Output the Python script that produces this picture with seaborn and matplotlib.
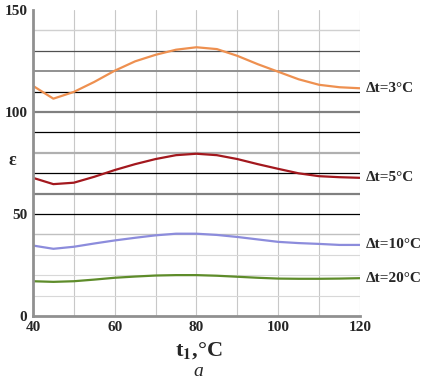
import matplotlib
matplotlib.use("Agg")
import matplotlib.pyplot as plt
import seaborn as sns
import pandas as pd

sns.set_theme(style="white")
plt.rcParams['font.family'] = ['Liberation Serif', 'DejaVu Serif']
plt.rcParams['mathtext.fontset'] = 'stix'

t1 = [40, 45, 50, 55, 60, 65, 70, 75, 80, 85, 90, 95, 100, 105, 110, 115, 120]
eps_3 = [112.8, 106.5, 109.8, 114.7, 120.2, 124.8, 128.0, 130.5, 131.7, 130.8,
         127.5, 123.4, 119.7, 116.0, 113.3, 112.1, 111.6]
eps_5 = [67.7, 64.6, 65.3, 68.2, 71.5, 74.4, 76.9, 78.8, 79.5, 78.8,
         76.9, 74.4, 72.1, 69.9, 68.5, 68.0, 67.7]
eps_10 = [34.5, 32.9, 33.9, 35.5, 37.0, 38.3, 39.5, 40.3, 40.3, 39.7,
          38.7, 37.5, 36.3, 35.7, 35.3, 34.8, 34.8]
eps_20 = [17.0, 16.7, 17.0, 17.8, 18.7, 19.3, 19.8, 20.0, 20.0, 19.7,
          19.2, 18.7, 18.3, 18.2, 18.2, 18.3, 18.5]
labels = ["Δt=3°C", "Δt=5°C", "Δt=10°C", "Δt=20°C"]
colors = ["#EE9050", "#A3181E", "#8C8CDC", "#5E8C2A"]

series = [eps_3, eps_5, eps_10, eps_20]
df = pd.concat([pd.DataFrame({"t1": t1, "eps": s, "dt": lab}) for s, lab in zip(series, labels)])

fig = plt.figure(figsize=(4.22, 3.82), dpi=100)
ax = fig.add_axes([0.078, 0.173, 0.775, 0.801])

# grid
for x in range(40, 121, 10):
    ax.axvline(x, color="#C8C8C8", lw=0.8, zorder=0)
hstyles = {10: ("#D8D8D8", 0.8), 20: ("#D8D8D8", 0.8), 30: ("#D8D8D8", 0.8),
           40: ("#C0C0C0", 1.0), 50: ("#000000", 0.9), 60: ("#808080", 1.6),
           70: ("#000000", 0.9), 80: ("#B0B0B0", 1.6), 90: ("#000000", 0.9),
           100: ("#808080", 1.6), 110: ("#000000", 0.9), 120: ("#909090", 1.4),
           130: ("#505050", 0.9), 140: ("#D0D0D0", 1.0)}
for y, (c, w) in hstyles.items():
    ax.axhline(y, color=c, lw=w, zorder=0)

sns.lineplot(data=df, x="t1", y="eps", hue="dt", palette=colors, ax=ax,
             legend=False, lw=1.6)
for line in ax.get_lines():
    line.set_solid_joinstyle("round")

ax.set_xlim(40, 120)
ax.set_ylim(0, 150)
ax.set_xticks([40, 60, 80, 100, 120])
ax.set_yticks([0, 50, 100, 150])
ax.tick_params(axis="x", labelsize=11, length=0, pad=4)
ax.tick_params(axis="y", labelsize=11, length=0, pad=4)
for lab in ax.get_xticklabels() + ax.get_yticklabels():
    lab.set_fontweight("bold")
for s in ["top", "right"]:
    ax.spines[s].set_visible(False)
for s in ["left", "bottom"]:
    ax.spines[s].set_color("#909090")
    ax.spines[s].set_linewidth(2)

for s, lab in zip(series, labels):
    ax.text(121.5, s[-1], lab, fontsize=11, fontweight="bold", va="center",
            ha="left", clip_on=False)

ax.set_xlabel("")
ax.set_ylabel("")
fig.text(0.03, 0.58, "ε", fontsize=13, fontweight="bold", ha="center", va="center")
fig.text(0.47, 0.083, r"t$_{\mathbf{1}}$,°C", fontsize=16, fontweight="bold", ha="center", va="center")
fig.text(0.47, 0.027, "a", fontsize=14, fontstyle="italic", ha="center", va="center")

fig.savefig("out.png", dpi=100)
